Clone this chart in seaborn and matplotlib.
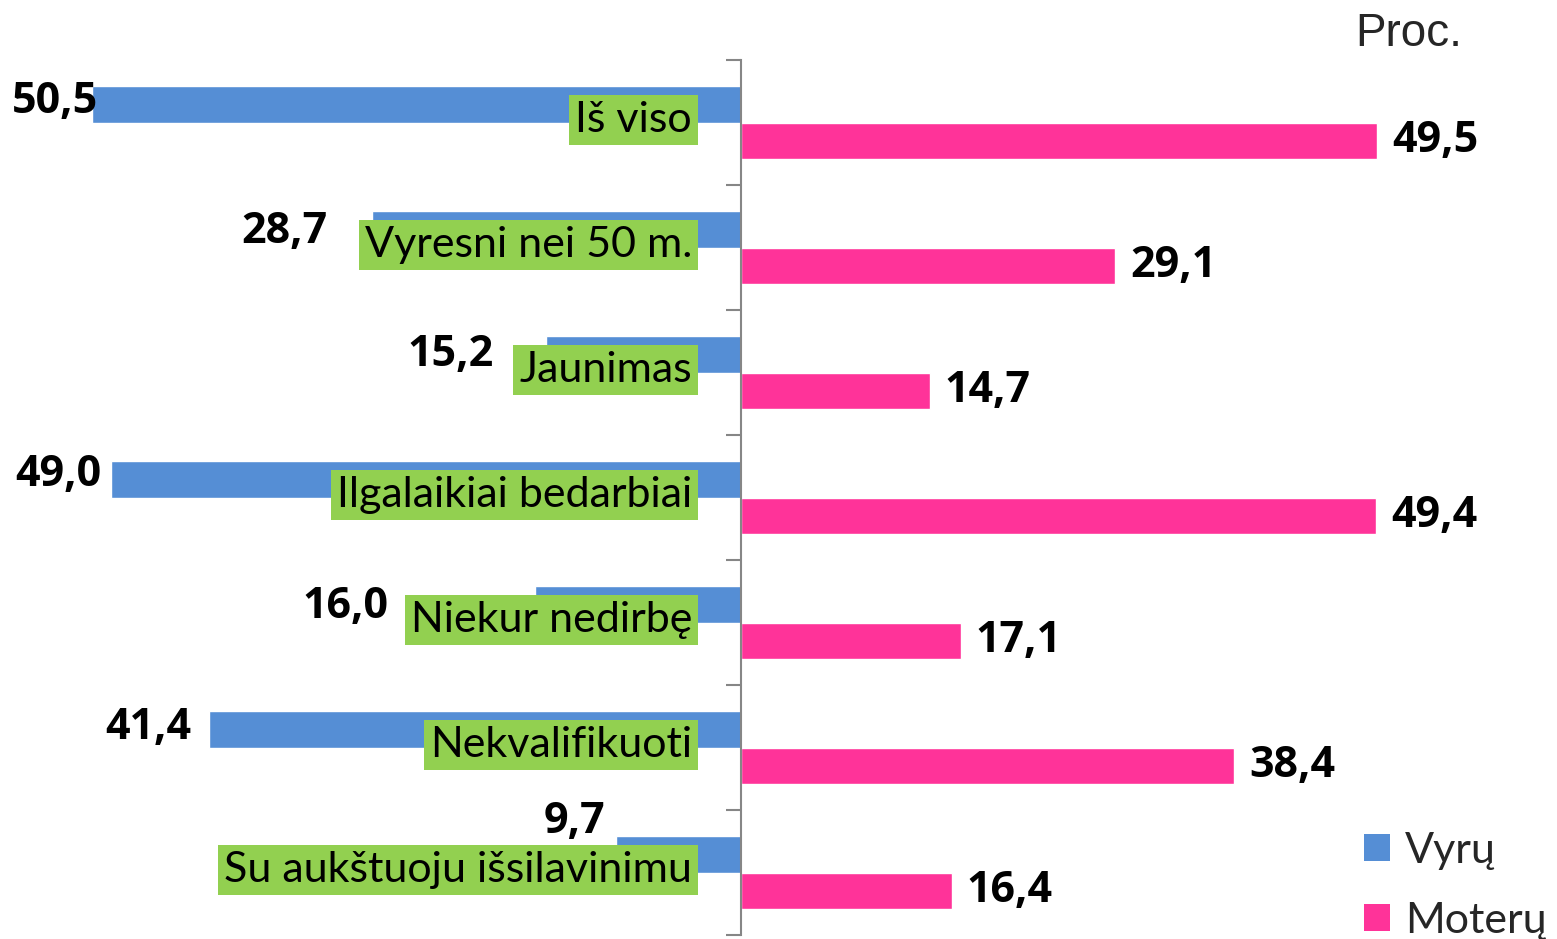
import matplotlib
matplotlib.use('Agg')
import matplotlib.pyplot as plt
import seaborn as sns
import pandas as pd
from matplotlib.patches import Patch

# Data
categories = ['Iš viso', 'Vyresni nei 50 m.', 'Jaunimas', 'Ilgalaikiai bedarbiai',
              'Niekur nedirbę', 'Nekvalifikuoti', 'Su aukštuoju išsilavinimu']
men = [50.5, 28.7, 15.2, 49.0, 16.0, 41.4, 9.7]
women = [49.5, 29.1, 14.7, 49.4, 17.1, 38.4, 16.4]
series = ['Vyrų', 'Moterų']
colors = ['#558ED5', '#FF3399']

# manual nudges of the men's value labels (px left of bar end, px up)
men_nudge_x = [-6, 45, 52, 10, 147, 18, 11]
men_nudge_y = [3, -2, 0, 5, -2, 2, 33]

W, H = 1557, 939
XPX = 12.85   # px per percent
YPX = 125.0   # px per category
X0 = 741      # px of zero line

df = pd.DataFrame({
    'cat': categories * 2,
    'sex': [series[0]] * len(categories) + [series[1]] * len(categories),
    'value': [-v for v in men] + women,
})

sns.set_theme(style='white')
plt.rcParams['font.family'] = ['Lato', 'DejaVu Sans']
num_font = ['Open Sans', 'DejaVu Sans']

fig = plt.figure(figsize=(W / 100, H / 100), dpi=100)
ax = fig.add_axes([0, 0, 1, 1])

sns.barplot(data=df, y='cat', x='value', hue='sex', hue_order=series,
            order=categories, orient='h', palette=colors, saturation=1,
            width=0.58, gap=0, errorbar=None, legend=False, ax=ax)

ax.set_xlim(-X0 / XPX, (W - X0) / XPX)
ax.set_ylim(6.5 + 4 / YPX, -0.5 - 60 / YPX)

# axis line at zero with ticks between groups
for s in ['top', 'right', 'bottom']:
    ax.spines[s].set_visible(False)
ax.spines['left'].set_position(('data', 0))
ax.spines['left'].set_bounds(-0.5, 6.5)
ax.spines['left'].set_color('#868686')
ax.spines['left'].set_linewidth(1.5)
ax.set_yticks([i - 0.5 for i in range(len(categories) + 1)])
ax.set_yticklabels([])
ax.tick_params(axis='y', direction='out', length=11, width=1.5, color='#868686', left=True)
ax.set_xticks([])
ax.set_xlabel('')
ax.set_ylabel('')

bar_off = 0.145
for i, cat in enumerate(categories):
    # category label in green box
    ax.text(-49 / XPX, i - 0.02, cat, ha='right', va='center', fontsize=31,
            color='black',
            bbox=dict(boxstyle='square,pad=0.14', facecolor='#92D050', edgecolor='none'))
    # men value
    ax.text(-men[i] - men_nudge_x[i] / XPX, i - bar_off - men_nudge_y[i] / YPX,
            f'{men[i]:.1f}'.replace('.', ','), ha='right', va='center',
            fontsize=31, fontweight='bold', color='black', family=num_font)
    # women value
    ax.text(women[i] + 15 / XPX, i + bar_off, f'{women[i]:.1f}'.replace('.', ','),
            ha='left', va='center', fontsize=31, fontweight='bold', color='black',
            family=num_font)

fig.text(1355 / W, 1 - 34 / H, 'Proc.', ha='left', va='center', fontsize=33,
         family=['Liberation Sans', 'DejaVu Sans'])

handles = [Patch(facecolor=c, edgecolor='none', label=s) for c, s in zip(colors, series)]
fig.legend(handles=handles, loc='lower left', bbox_to_anchor=(1364 / W, -1 / H),
           frameon=False, fontsize=31, handlelength=0.6, handleheight=0.6,
           handletextpad=0.35, labelspacing=0.75, borderaxespad=0, borderpad=0)

fig.savefig('out.png', dpi=100)
